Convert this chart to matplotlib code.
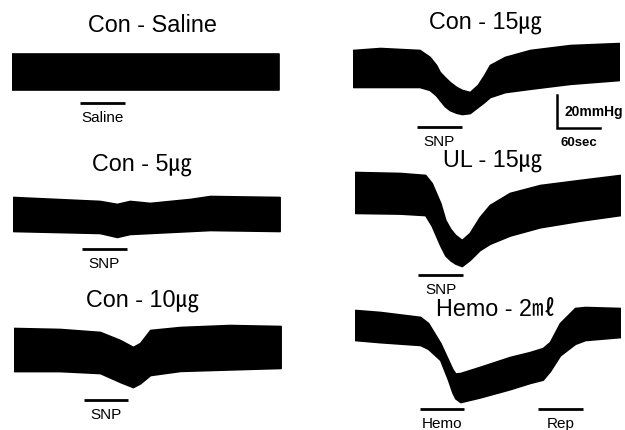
import matplotlib
matplotlib.use("Agg")
import matplotlib.pyplot as plt

# ---- recordings: time (s) and systolic / diastolic envelope (mmHg) ----
saline_t = [0, 60, 120, 180, 240, 300, 372]
saline_sys = [125, 125, 125, 125, 125, 125, 125]
saline_dia = [103, 103, 103, 103, 103, 103, 103]
saline_event = (95, 158)

snp5_t = [0, 121, 145, 163, 191, 247, 275, 372]
snp5_sys = [125, 122.6, 120.8, 122.6, 121.4, 123.8, 125.6, 125]
snp5_dia = [104.4, 103.2, 100.8, 102.6, 103.2, 104.4, 105.0, 104.4]
snp5_event = (96, 159)

snp10_t = [0, 64, 120, 148, 166, 176, 190, 232, 301, 372]
snp10_sys = [125, 124.4, 122.6, 117.7, 113.5, 115.9, 123.8, 125.6, 126.8, 126.2]
snp10_dia = [98.9, 98.9, 97.7, 92.3, 89.2, 91.5, 96.5, 99.0, 99.9, 100.8]
snp10_event = (98, 159)

snp15_t = [0, 38, 93, 107, 116, 121, 128, 135, 144, 152, 163, 174, 183, 191, 212, 247, 303, 371]
snp15_sys = [125, 126.2, 125, 120.8, 115.9, 111.7, 108.5, 105.6, 102.6, 100.8, 99.5, 103.8, 109.8, 115.9, 120.8, 125, 128, 129.2]
snp15_dia = [102.6, 102.6, 102.6, 100.8, 97.5, 94.7, 91.0, 88.6, 87.0, 86.2, 86.8, 90.5, 93.5, 96.5, 99.5, 101.5, 104.5, 106.8]
snp15_event = (89, 152)

ul15_t = [0, 63, 98, 107, 119, 126, 133, 140, 149, 160, 174, 188, 216, 258, 314, 370]
ul15_sys = [125, 124.4, 123.2, 118.3, 106.2, 95.9, 90.5, 86.8, 83.8, 88.0, 97.7, 105, 112.3, 117.1, 120.2, 123.2]
ul15_dia = [100.2, 99.8, 98.9, 92.5, 80.5, 74.5, 71.5, 69.5, 68.0, 71.7, 77.7, 81.5, 86.5, 91.5, 95.5, 98.9]
ul15_event = (88, 151)

hemo_t = [0, 35, 91, 102, 119, 130, 136, 140, 147, 174, 216, 244, 262, 272, 286, 307, 321, 370]
hemo_sys = [125, 123.8, 120.8, 117.1, 105, 94.7, 89.0, 86.5, 86.8, 90.5, 96.5, 99.5, 101.9, 105.6, 117.1, 126.2, 126.8, 126.2]
hemo_dia = [106.8, 105.5, 103.8, 101.5, 94.7, 82.6, 75.0, 71.5, 69.2, 72.0, 77.0, 80.8, 82.8, 88.0, 97.5, 104.5, 106.8, 108.6]
hemo_event = (91, 152)
rep_event = (255, 318)

# scale bar
scale_mmhg = 20
scale_sec = 60

# ---- layout ----
W, H = 625, 430
PX_PER_SEC = 43 / 60.0
PX_PER_MMHG = 33 / 20.0
P_REF = 125.0
P_LO, P_HI = 55.0, 135.0

plt.rcParams["font.family"] = ["Liberation Sans", "Noto Sans CJK KR", "DejaVu Sans"]

fig = plt.figure(figsize=(W / 100, H / 100), dpi=100)
fig.patch.set_facecolor("white")


def trace_axes(x0_px, x1_px, yref_px):
    """Axes whose data units are seconds and mmHg, P_REF placed at yref_px."""
    top_px = yref_px - (P_HI - P_REF) * PX_PER_MMHG
    bot_px = yref_px + (P_REF - P_LO) * PX_PER_MMHG
    ax = fig.add_axes([x0_px / W, 1 - bot_px / H, (x1_px - x0_px) / W, (bot_px - top_px) / H])
    ax.set_xlim(0, (x1_px - x0_px) / PX_PER_SEC)
    ax.set_ylim(P_LO, P_HI)
    ax.axis("off")
    ax.patch.set_alpha(0)
    return ax


def draw_trace(ax, t, sys, dia):
    poly = ax.fill_between(t, dia, sys, color="black", linewidth=1.2, edgecolor="black")
    poly.set_joinstyle("round")


def event_bar(ax, span, level, label):
    ax.hlines(level, span[0], span[1], color="black", linewidth=2.0, clip_on=False)
    ax.annotate(label, xy=((span[0] + span[1]) / 2, level), xytext=(0, -11),
                textcoords="offset points", ha="center", va="center",
                fontsize=11, annotation_clip=False)


def title(x_px, y_px, s):
    fig.text(x_px / W, 1 - y_px / H, s, ha="center", va="center", fontsize=16.8)


panels = [
    # (x0, x1, yref, t, sys, dia)
    (12, 279, 54, saline_t, saline_sys, saline_dia),
    (13, 280, 197, snp5_t, snp5_sys, snp5_dia),
    (14, 281, 328, snp10_t, snp10_sys, snp10_dia),
    (353, 619, 50, snp15_t, snp15_sys, snp15_dia),
    (355, 620, 172, ul15_t, ul15_sys, ul15_dia),
    (355, 620, 310, hemo_t, hemo_sys, hemo_dia),
]
axes = []
for x0, x1, yref, t, s, d in panels:
    ax = trace_axes(x0, x1, yref)
    draw_trace(ax, t, s, d)
    axes.append(ax)

event_bar(axes[0], saline_event, 95.3, "Saline")
event_bar(axes[1], snp5_event, 93.5, "SNP")
event_bar(axes[2], snp10_event, 81.4, "SNP")
event_bar(axes[3], snp15_event, 78.3, "SNP")
event_bar(axes[4], ul15_event, 62.6, "SNP")
event_bar(axes[5], hemo_event, 65.0, "Hemo")
event_bar(axes[5], rep_event, 65.0, "Rep")

# calibration bar on the Con - 15 panel
ax = axes[3]
sb_t0, sb_p0 = 285, 77.7
ax.plot([sb_t0, sb_t0, sb_t0 + scale_sec], [sb_p0 + scale_mmhg, sb_p0, sb_p0],
        color="black", linewidth=1.8, solid_joinstyle="miter", clip_on=False)
ax.annotate(f"{scale_mmhg}mmHg", xy=(sb_t0, sb_p0 + scale_mmhg / 2), xytext=(5, 0),
            textcoords="offset points", ha="left", va="center",
            fontsize=10, fontweight="bold", annotation_clip=False)
ax.annotate(f"{scale_sec}sec", xy=(sb_t0 + scale_sec / 2, sb_p0), xytext=(0, -11),
            textcoords="offset points", ha="center", va="center",
            fontsize=9.5, fontweight="bold", annotation_clip=False)

title(152, 25, "Con - Saline")
title(142, 165, "Con - 5㎍")
title(143, 300, "Con - 10㎍")
title(485, 23, "Con - 15㎍")
title(493, 161, "UL - 15㎍")
title(496, 310, "Hemo - 2㎖")

fig.savefig("out.png", dpi=100, facecolor="white")
